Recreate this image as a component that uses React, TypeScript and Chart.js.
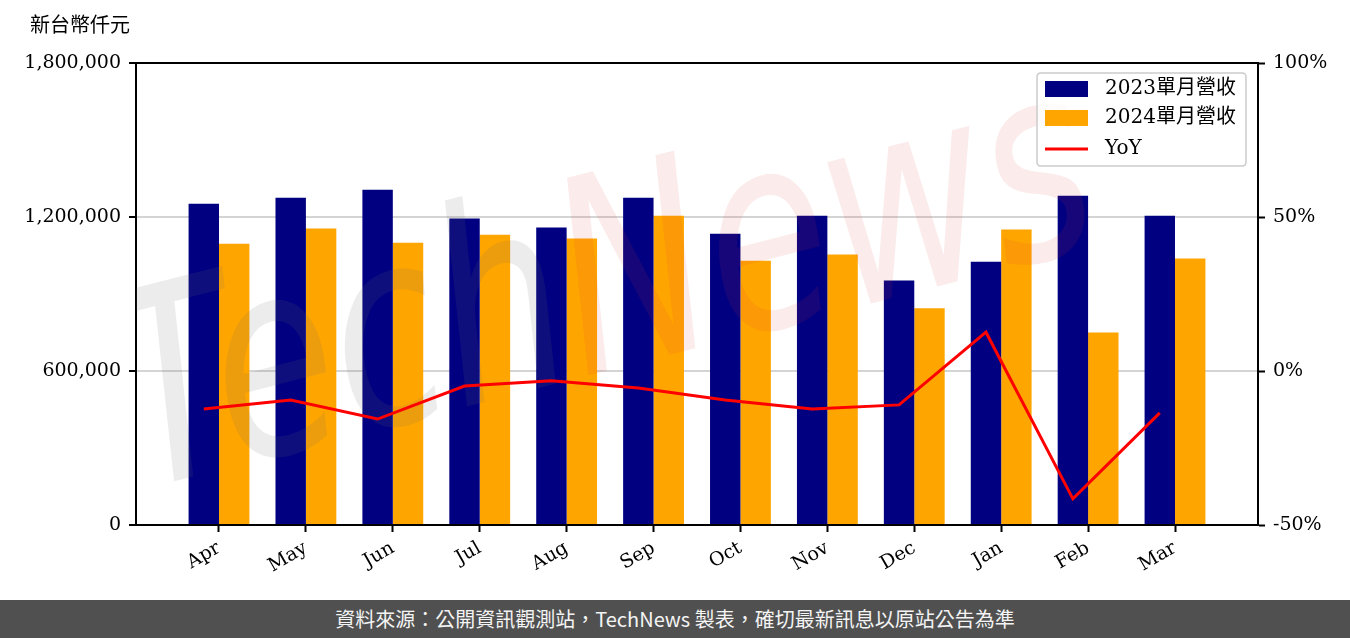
import React, { useEffect, useRef } from "react";
import { Chart, registerables } from "chart.js";

Chart.register(...registerables);

const months = ["Apr", "May", "Jun", "Jul", "Aug", "Sep", "Oct", "Nov", "Dec", "Jan", "Feb", "Mar"];
const revenue2023 = [1252000, 1275000, 1306000, 1194000, 1159000, 1275000, 1135000, 1205000, 953000, 1026000, 1283000, 1205000];
const revenue2024 = [1096000, 1155000, 1100000, 1131000, 1116000, 1205000, 1030000, 1054000, 844000, 1151000, 750000, 1038000];
const yoyPercent = [-12.3, -9.4, -15.6, -4.9, -3.2, -5.5, -9.4, -12.3, -11.0, 12.6, -41.5, -13.6];
const leftTicks = [0, 600000, 1200000, 1800000];
const rightTicks = [-50, 0, 50, 100];
const seriesLabels = ["2023單月營收", "2024單月營收", "YoY"];
const seriesColors = ["#000080", "#FFA500", "#FF0000"];
const unitLabel = "新台幣仟元";
const watermarkParts = ["Tech", "News"];
const footerText = "資料來源：公開資訊觀測站，TechNews 製表，確切最新訊息以原站公告為準";

const SERIF = "'DejaVu Serif', 'Noto Sans CJK TC', serif";
const CAT_PCT = 0.7;
const X_PAD = 0.955;

const decorPlugin = {
  id: "decor",
  beforeDatasetDraw(chart: any, args: any) {
    if (args.meta.type !== "line") return;
    const ctx = chart.ctx;
    const area = chart.chartArea;
    ctx.save();
    ctx.beginPath();
    ctx.rect(area.left, area.top, area.right - area.left, area.bottom - area.top);
    ctx.clip();
    ctx.translate(140, 490);
    ctx.rotate(-0.25);
    ctx.scale(1, 1.35);
    ctx.font = "italic 200px 'DejaVu Sans'";
    ctx.textBaseline = "alphabetic";
    ctx.fillStyle = "rgba(110,110,110,0.13)";
    ctx.fillText(watermarkParts[0], 0, 0);
    const w = ctx.measureText(watermarkParts[0]).width;
    ctx.fillStyle = "rgba(215,60,60,0.1)";
    ctx.fillText(watermarkParts[1], w, 0);
    ctx.restore();
  },
  afterDraw(chart: any) {
    const ctx = chart.ctx;
    const area = chart.chartArea;
    ctx.save();
    // top frame line
    ctx.strokeStyle = "#000";
    ctx.lineWidth = 2;
    ctx.beginPath();
    ctx.moveTo(area.left - 1, area.top);
    ctx.lineTo(area.right + 1, area.top);
    ctx.stroke();

    // unit title
    ctx.fillStyle = "#000";
    ctx.font = "20px " + SERIF;
    ctx.textBaseline = "middle";
    ctx.textAlign = "left";
    ctx.fillText(unitLabel, 30, 27);

    // legend
    const bx = 1037, by = 73, bw = 209, bh = 93, r = 4;
    ctx.beginPath();
    ctx.moveTo(bx + r, by);
    ctx.lineTo(bx + bw - r, by);
    ctx.quadraticCurveTo(bx + bw, by, bx + bw, by + r);
    ctx.lineTo(bx + bw, by + bh - r);
    ctx.quadraticCurveTo(bx + bw, by + bh, bx + bw - r, by + bh);
    ctx.lineTo(bx + r, by + bh);
    ctx.quadraticCurveTo(bx, by + bh, bx, by + bh - r);
    ctx.lineTo(bx, by + r);
    ctx.quadraticCurveTo(bx, by, bx + r, by);
    ctx.closePath();
    ctx.fillStyle = "rgba(255,255,255,0.8)";
    ctx.fill();
    ctx.strokeStyle = "#cccccc";
    ctx.lineWidth = 1.5;
    ctx.stroke();

    const rowsY = [89, 118, 149];
    seriesLabels.forEach((label, i) => {
      const y = rowsY[i];
      if (i < 2) {
        ctx.fillStyle = seriesColors[i];
        ctx.fillRect(1045, y - 8, 43, 16);
      } else {
        ctx.strokeStyle = seriesColors[i];
        ctx.lineWidth = 3;
        ctx.beginPath();
        ctx.moveTo(1045, y);
        ctx.lineTo(1088, y);
        ctx.stroke();
      }
      ctx.fillStyle = "#000";
      ctx.font = "20px " + SERIF;
      ctx.textBaseline = "middle";
      ctx.textAlign = "left";
      ctx.fillText(label, 1105, y);
    });
    ctx.restore();
  },
};

export default function App() {
  const canvasRef = useRef<HTMLCanvasElement | null>(null);

  useEffect(() => {
    if (!canvasRef.current) return;
    const lineShift = CAT_PCT / 4;
    const chart = new Chart(canvasRef.current, {
      type: "bar",
      data: {
        datasets: [
          {
            type: "bar",
            label: seriesLabels[0],
            data: revenue2023.map((v, i) => ({ x: i, y: v })),
            backgroundColor: seriesColors[0],
            categoryPercentage: CAT_PCT,
            barPercentage: 1,
            yAxisID: "y",
            order: 1,
          },
          {
            type: "bar",
            label: seriesLabels[1],
            data: revenue2024.map((v, i) => ({ x: i, y: v })),
            backgroundColor: seriesColors[1],
            categoryPercentage: CAT_PCT,
            barPercentage: 1,
            yAxisID: "y",
            order: 1,
          },
          {
            type: "line",
            label: seriesLabels[2],
            data: yoyPercent.map((v, i) => ({ x: i - lineShift, y: v })),
            borderColor: seriesColors[2],
            borderWidth: 3,
            pointRadius: 0,
            fill: false,
            tension: 0,
            yAxisID: "y1",
            order: 0,
          },
        ],
      } as any,
      options: {
        animation: false,
        responsive: false,
        maintainAspectRatio: false,
        layout: { padding: { top: 63, left: 0, right: 0, bottom: 0 } },
        plugins: { legend: { display: false }, tooltip: { enabled: false } },
        scales: {
          x: {
            type: "linear",
            min: -X_PAD,
            max: months.length - 1 + X_PAD,
            offset: false,
            afterBuildTicks: (s: any) => {
              s.ticks = months.map((_, i) => ({ value: i }));
            },
            afterFit: (s: any) => {
              s.height = 75;
            },
            ticks: {
              autoSkip: false,
              minRotation: 30,
              maxRotation: 30,
              padding: 5,
              color: "#000",
              font: { family: SERIF, size: 19 },
              callback: (v: any) => months[Math.round(Number(v))] ?? "",
            },
            grid: {
              offset: false,
              drawOnChartArea: false,
              tickColor: "#000",
              tickLength: 7,
              tickWidth: 2,
            },
            border: { display: true, color: "#000", width: 2 },
          },
          y: {
            type: "linear",
            position: "left",
            min: leftTicks[0],
            max: leftTicks[leftTicks.length - 1],
            afterBuildTicks: (s: any) => {
              s.ticks = leftTicks.map((v) => ({ value: v }));
            },
            afterFit: (s: any) => {
              s.width = 136;
            },
            ticks: {
              padding: 8,
              color: "#000",
              font: { family: SERIF, size: 19 },
              callback: (v: any) => Number(v).toLocaleString("en-US"),
            },
            grid: {
              color: "#d4d4d4",
              lineWidth: 2,
              tickColor: "#000",
              tickLength: 7,
              tickWidth: 2,
            },
            border: { display: true, color: "#000", width: 2 },
          },
          y1: {
            type: "linear",
            position: "right",
            min: rightTicks[0],
            max: rightTicks[rightTicks.length - 1],
            afterBuildTicks: (s: any) => {
              s.ticks = rightTicks.map((v) => ({ value: v }));
            },
            afterFit: (s: any) => {
              s.width = 92;
            },
            ticks: {
              padding: 8,
              color: "#000",
              font: { family: SERIF, size: 19 },
              callback: (v: any) => v + "%",
            },
            grid: {
              drawOnChartArea: false,
              tickColor: "#000",
              tickLength: 7,
              tickWidth: 2,
            },
            border: { display: true, color: "#000", width: 2 },
          },
        },
      } as any,
      plugins: [decorPlugin],
    });
    return () => chart.destroy();
  }, []);

  return (
    <div style={{ position: "absolute", left: 0, top: 0, width: 1350, height: 638, background: "#fff", overflow: "hidden" }}>
      <canvas ref={canvasRef} width={1350} height={600} style={{ display: "block", width: 1350, height: 600 }} />
      <div
        style={{
          position: "absolute",
          left: 0,
          top: 600,
          width: 1350,
          height: 38,
          background: "#505050",
          color: "#f4f4f4",
          fontFamily: "'Noto Sans CJK TC', 'Noto Sans', sans-serif",
          fontSize: 20,
          lineHeight: "38px",
          textAlign: "center",
        }}
      >
        {footerText}
      </div>
    </div>
  );
}
